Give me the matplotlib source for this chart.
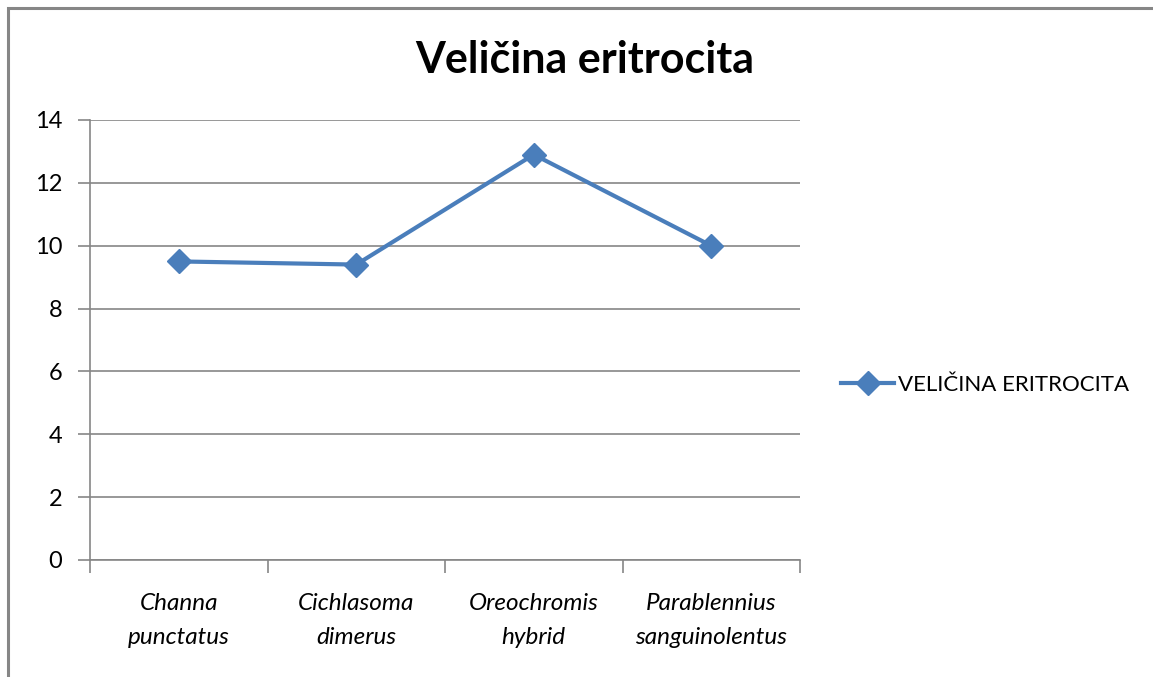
import matplotlib.pyplot as plt
from matplotlib.lines import Line2D
from matplotlib.patches import Rectangle

# Podaci
kategorije = ["Channa\npunctatus", "Cichlasoma\ndimerus", "Oreochromis\nhybrid", "Parablennius\nsanguinolentus"]
velicina = [9.5, 9.4, 12.9, 10.0]
y_ticks = [0, 2, 4, 6, 8, 10, 12, 14]

plt.rcParams['font.family'] = ['Lato', 'DejaVu Sans']

W, H = 1153, 677
fig = plt.figure(figsize=(W / 100, H / 100), dpi=100)

# okvir grafikona
fig.patches.append(Rectangle((8 / W, -0.1), 1.2, (H - 8) / H + 0.1, transform=fig.transFigure,
                             fill=False, edgecolor='#868686', linewidth=2.2))

ax = fig.add_axes([90 / W, (H - 560) / H, 710 / W, 440 / H])
x = list(range(len(kategorije)))
siva = '#868686'
plava = '#4A7EBB'

ax.plot(x, velicina, color=plava, linewidth=3, marker='D', markersize=12,
        markerfacecolor=plava, markeredgecolor=plava, zorder=3)

ax.set_xlim(-0.5, len(kategorije) - 0.5)
ax.set_ylim(0, 14)
ax.set_yticks(y_ticks)
ax.yaxis.grid(True, color=siva, linewidth=1.2)
ax.set_axisbelow(True)

for s in ['top', 'right']:
    ax.spines[s].set_visible(False)
for s in ['left', 'bottom']:
    ax.spines[s].set_color(siva)
    ax.spines[s].set_linewidth(1.2)

ax.tick_params(axis='y', length=9, width=1.2, color=siva, labelsize=17, pad=11)
# oznake kategorija
ax.set_xticks(x)
ax.set_xticklabels(kategorije, fontsize=17.5, style='italic', linespacing=1.75)
ax.tick_params(axis='x', length=0, pad=24)
ax.set_xticks([i - 0.5 for i in range(len(kategorije) + 1)], minor=True)
ax.tick_params(axis='x', which='minor', length=9, width=1.2, color=siva)

fig.text(585 / W, 1 - 60 / H, "Veličina eritrocita", fontsize=31, fontweight='bold',
         ha='center', va='center')

handle = Line2D([], [], color=plava, linewidth=3, marker='D', markersize=12)
fig.legend([handle], ["VELIČINA ERITROCITA"], loc='center left',
           bbox_to_anchor=(821 / W, 1 - 385 / H), frameon=False, fontsize=16,
           handlelength=2.4, handletextpad=0.15)

fig.savefig("out.png", dpi=100)
